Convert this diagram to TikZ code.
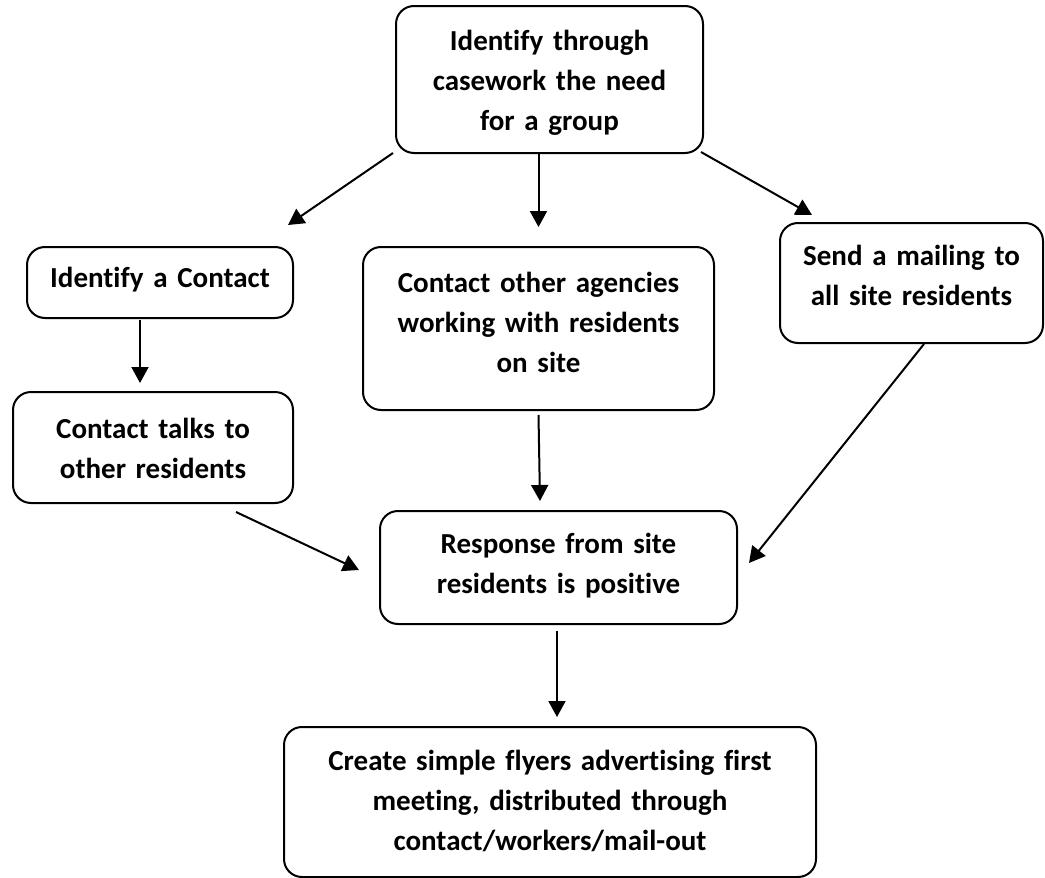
\documentclass[tikz,border=0pt]{standalone}
\usepackage{fontspec}
\setmainfont{Carlito}[Ligatures=NoCommon]
\usetikzlibrary{arrows.meta,positioning}

\begin{document}
\begin{tikzpicture}[x=1pt,y=-1pt,line width=2pt,
		box/.style={draw,rounded corners=18pt,inner sep=0pt},
		txt/.style={font=\fontsize{29}{40}\selectfont\bfseries,align=center,inner sep=0pt,text width=#1},
		arr/.style={-{Triangle[length=16pt,width=17pt]}}]
	\useasboundingbox (0,0) rectangle (1045,878);
	\node[box, minimum width=307pt, minimum height=147pt] (need)     at (549.5,79.5) {};
	\node[box, minimum width=266pt, minimum height=71pt]  (contact)  at (160,282.5)  {};
	\node[box, minimum width=351pt, minimum height=163pt] (agencies) at (538.5,328.5) {};
	\node[box, minimum width=263pt, minimum height=120pt] (mailing)  at (911.5,283)  {};
	\node[box, minimum width=280pt, minimum height=111pt] (talks)    at (153,447.5)  {};
	\node[box, minimum width=357pt, minimum height=113pt] (response) at (558.5,567.5) {};
	\node[box, minimum width=532pt, minimum height=150pt] (flyers)   at (550,802)    {};
	\node[txt=300pt, below=16pt of need.north]     (need-text)     {\strut Identify through\\ casework the need\\ for a group};
	\node[txt=260pt, below=12pt of contact.north]  (contact-text)  {\strut Identify a Contact};
	\node[txt=340pt, below=17pt of agencies.north] (agencies-text) {\strut Contact other agencies\\ working with residents\\ on site};
	\node[txt=260pt, below=14pt of mailing.north]  (mailing-text)  {\strut Send a mailing to\\ all site residents};
	\node[txt=270pt, below=18pt of talks.north]    (talks-text)    {\strut Contact talks to\\ other residents};
	\node[txt=350pt, below=14pt of response.north] (response-text) {\strut Response from site\\ residents is positive};
	\node[txt=520pt, below=15pt of flyers.north]   (flyers-text)   {\strut Create simple flyers advertising first\\ meeting, distributed through\\ contact/workers/mail-out};
	\draw[arr] ([shift={(-2,-1)}]need.south west)    -- ([shift={(-6,-21)}]contact.north east);
	\draw[arr] (agencies.north |- need.south)         -- ([shift={(0,-19)}]agencies.north);
	\draw[arr] ([shift={(-3,-2)}]need.south east)     -- ([shift={(33,-7)}]mailing.north west);
	\draw[arr] ([shift={(-20,1)}]contact.south)       -- ([shift={(-13,-8)}]talks.north);
	\draw[arr] ([shift={(-58,8)}]talks.south east)    -- ([shift={(-20,2.5)}]response.west);
	\draw[arr] ([shift={(12.5,0)}]mailing.south)      -- ([shift={(11,-4.5)}]response.east);
	\draw[arr] ([shift={(0,4)}]agencies.south)        -- ([shift={(-18.5,-9)}]response.north);
	\draw[arr] ([shift={(-1.5,6)}]response.south)     -- ([shift={(7,-9)}]flyers.north);
\end{tikzpicture}
\end{document}
